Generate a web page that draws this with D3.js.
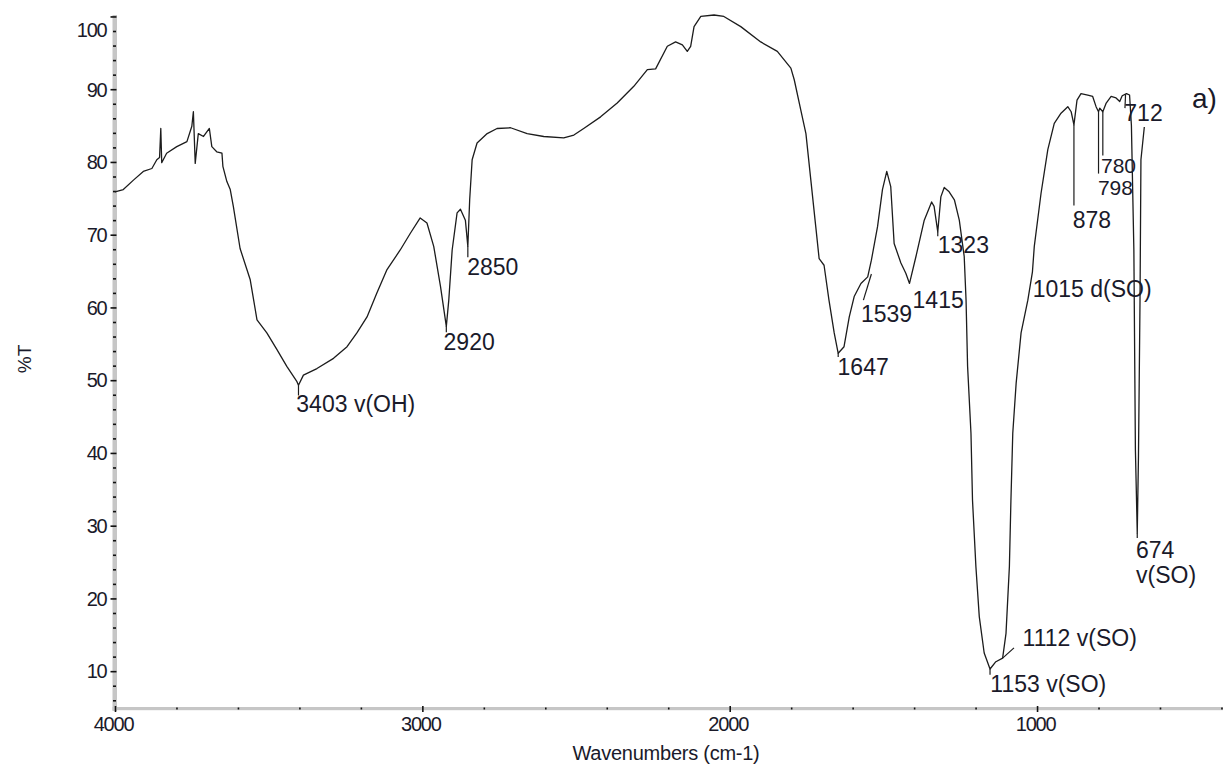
<!DOCTYPE html>
<html>
<head>
<meta charset="utf-8">
<script src="https://cdn.jsdelivr.net/npm/d3@7"></script>
<style>
  html, body { margin: 0; padding: 0; background: #fff; }
  svg { display: block; font-family: "Liberation Sans", Arial, sans-serif; }
</style>
</head>
<body>
<svg id="chart" width="1223" height="768"></svg>
<script>
// ---- Data ----
const wavenumbers = [4000,3973,3940,3908,3880,3864,3855,3851,3848,3832,3799,3766,3750,3745,3739,3729,3712,3693,3685,3669,3652,3649,3636,3625,3615,3593,3560,3538,3506,3473,3441,3408,3403,3387,3343,3289,3245,3213,3180,3148,3115,3072,3039,3007,2985,2963,2941,2922,2914,2903,2887,2876,2860,2852,2846,2838,2822,2789,2757,2713,2659,2605,2540,2507,2475,2420,2366,2312,2268,2241,2203,2176,2154,2138,2127,2116,2094,2051,2019,1964,1899,1845,1801,1790,1769,1752,1736,1720,1709,1693,1677,1660,1647,1628,1611,1595,1573,1551,1539,1519,1503,1489,1476,1465,1443,1427,1415,1394,1367,1343,1335,1323,1313,1302,1286,1269,1253,1237,1231,1226,1215,1210,1199,1188,1172,1153,1134,1112,1101,1090,1085,1079,1068,1052,1030,1015,1009,987,965,944,922,900,889,880,870,857,835,819,808,800,796,786,775,759,743,731,723,709,699,693,685,680,674,670,665,662,651];
const transmittance = [75.9,76.2,77.5,78.7,79.1,80.3,80.6,84.6,79.9,81.2,82.1,82.8,84.9,86.9,79.8,83.9,83.5,84.6,82.1,81.4,81.2,79.4,77.3,76.2,73.9,68.1,63.8,58.3,56.5,54.2,51.9,49.8,49.3,50.7,51.6,53.0,54.6,56.5,58.7,62.0,65.2,67.9,70.2,72.3,71.6,68.4,62.9,57.4,61.0,67.9,73.0,73.5,72.0,68.4,74.8,80.3,82.6,83.9,84.6,84.7,83.9,83.5,83.3,83.7,84.6,86.2,88.1,90.4,92.7,92.8,95.9,96.5,96.1,95.2,95.9,98.6,100.0,100.2,100.0,98.6,96.5,95.2,92.9,91.3,87.2,83.9,77.5,71.1,66.7,65.8,61.0,56.5,53.7,54.6,58.7,61.5,63.3,64.2,66.5,71.1,76.2,78.7,76.6,68.8,66.1,64.7,63.3,67.0,72.0,74.5,73.9,70.4,75.2,76.5,75.9,74.8,72.0,67.0,61.0,51.9,42.7,33.5,24.4,17.5,12.5,10.3,11.3,11.8,15.2,24.4,33.5,42.7,49.6,56.5,61.0,64.9,68.4,75.7,81.7,85.3,86.7,87.6,86.9,85.1,88.5,89.4,89.2,89.0,87.6,86.9,87.4,86.9,88.1,89.0,88.8,88.3,89.1,89.4,89.2,85.0,67.9,40.4,29.0,39.6,61.0,80.3,84.8];

const xMajorTicks = [4000, 3000, 2000, 1000];
const xMinorTicks = [3800,3600,3400,3200,2800,2600,2400,2200,1800,1600,1400,1200,800,600,400];
const yMajorTicks = [10,20,30,40,50,60,70,80,90,100];
const yMinorTicks = [6,8,12,14,16,18,22,24,26,28,32,34,36,38,42,44,46,48,52,54,56,58,62,64,66,68,72,74,76,78,82,84,86,88,92,94,96,98];

// Peak annotations: text lines, peak position, connector end, label anchor (data units)
const annoText   = [["3403 v(OH)"],["2920"],["2850"],["1647"],["1539"],["1415"],["1323"],["1015 d(SO)"],["878"],["798"],["780"],["712"],["674","v(SO)"],["1112 v(SO)"],["1153 v(SO)"]];
const annoPeakWn = [3403,2922,2852,1647,1539,1415,1323,1015,880,800,786,712,674,1112,1153];
const annoPeakT  = [49.3,57.4,68.4,53.7,64.6,63.3,70.4,64.9,85.1,86.9,86.9,89.3,29.0,11.8,10.3];
const annoLineWn = [3403,2922,2852,1647,1565,1415,1323,1015,880,800,786,714,674,1075,1153];
const annoLineT  = [47.9,56.6,66.9,53.2,61.0,63.3,69.8,64.9,74.0,78.4,80.9,87.4,28.3,13.2,9.5];
const annoLabelWn= [3410,2931,2854,1649,1573,1405,1323,1014,884,802,792,716,678,1047,1152];
const annoLabelT = [45.6,54.2,64.5,50.7,58.0,59.9,67.5,61.4,70.9,75.5,78.5,85.6,25.6,13.5,7.1];

const xTitle = "Wavenumbers (cm-1)";
const yTitle = "%T";
const panelLabel = "a)";

// ---- Drawing ----
const svg = d3.select("#chart");
const x = d3.scaleLinear().domain([4000, 395]).range([115, 1223]);
const y = d3.scaleLinear().domain([4.8, 100.2]).range([709, 15]);

// gray axis bars
svg.append("rect").attr("x", 112.5).attr("y", 15).attr("width", 4.5).attr("height", 696).attr("fill", "#c6c6c6");
svg.append("rect").attr("x", 112.5).attr("y", 707).attr("width", 1110.5).attr("height", 3.2).attr("fill", "#c6c6c6");

// y axis: minor ticks
const yMinor = svg.append("g").attr("transform", "translate(116,0)")
  .call(d3.axisLeft(y).tickValues(yMinorTicks).tickSize(3).tickFormat(""));
yMinor.select(".domain").remove();
yMinor.selectAll("line").attr("stroke", "#111").attr("stroke-width", 1.6);

// y axis: major ticks + labels
const yMajor = svg.append("g").attr("transform", "translate(116.5,0)")
  .call(d3.axisLeft(y).tickValues(yMajorTicks).tickSize(6).tickPadding(4).tickFormat(d3.format("d")));
yMajor.select(".domain").remove();
yMajor.selectAll("line").attr("stroke", "#111").attr("stroke-width", 1.6);
yMajor.selectAll("text")
  .attr("fill", "#1a1a2a").attr("font-size", 20).style("letter-spacing", "-1.2px")
  .attr("font-family", "Liberation Sans, Arial, sans-serif")
  .attr("dy", d => d === 100 ? "1.0em" : "0.34em");

// x axis: minor ticks
const xMinor = svg.append("g").attr("transform", "translate(0,707.5)")
  .call(d3.axisBottom(x).tickValues(xMinorTicks).tickSize(2).tickFormat(""));
xMinor.select(".domain").remove();
xMinor.selectAll("line").attr("stroke", "#111").attr("stroke-width", 1.6);

// x axis: major ticks + labels
const xMajor = svg.append("g").attr("transform", "translate(0,706)")
  .call(d3.axisBottom(x).tickValues(xMajorTicks).tickSize(6).tickPadding(5).tickFormat(d3.format("d")));
xMajor.select(".domain").remove();
xMajor.selectAll("line").attr("stroke", "#111").attr("stroke-width", 1.6);
xMajor.selectAll("text")
  .attr("fill", "#1a1a2a").attr("font-size", 20).style("letter-spacing", "-1.2px")
  .attr("font-family", "Liberation Sans, Arial, sans-serif")
  .attr("dx", -2);

// axis titles
svg.append("text").attr("x", 666).attr("y", 760).attr("text-anchor", "middle")
  .attr("font-size", 20).style("letter-spacing", "-0.25px").attr("fill", "#1a1a2a").text(xTitle);
svg.append("text").attr("transform", "translate(31,359) rotate(-90)").attr("text-anchor", "middle")
  .attr("font-size", 19).attr("fill", "#1a1a2a").text(yTitle);

// spectrum
const spectrum = wavenumbers.map((w, i) => [w, transmittance[i]]);
svg.append("path").datum(spectrum)
  .attr("fill", "none").attr("stroke", "#1c1c1c").attr("stroke-width", 1.3).attr("stroke-linejoin", "round")
  .attr("d", d3.line().x(d => x(d[0])).y(d => y(d[1])));

// annotations
const ann = svg.append("g");
annoText.forEach((lines, i) => {
  ann.append("line")
    .attr("x1", x(annoPeakWn[i])).attr("y1", y(annoPeakT[i]))
    .attr("x2", x(annoLineWn[i])).attr("y2", y(annoLineT[i]))
    .attr("stroke", "#1c1c1c").attr("stroke-width", 1.2);
  const small = annoText[i][0] === "780" || annoText[i][0] === "798";
  const t = ann.append("text").attr("x", x(annoLabelWn[i])).attr("y", y(annoLabelT[i]))
    .attr("font-size", small ? 21 : 23).attr("fill", "#1a1a2a");
  lines.forEach((ln, j) => {
    t.append("tspan").attr("x", x(annoLabelWn[i])).attr("dy", j === 0 ? 0 : 25).text(ln);
  });
});

// panel label
svg.append("text").attr("x", 1192).attr("y", 108).attr("font-size", 28).attr("fill", "#1a1a2a").text(panelLabel);
</script>
</body>
</html>
